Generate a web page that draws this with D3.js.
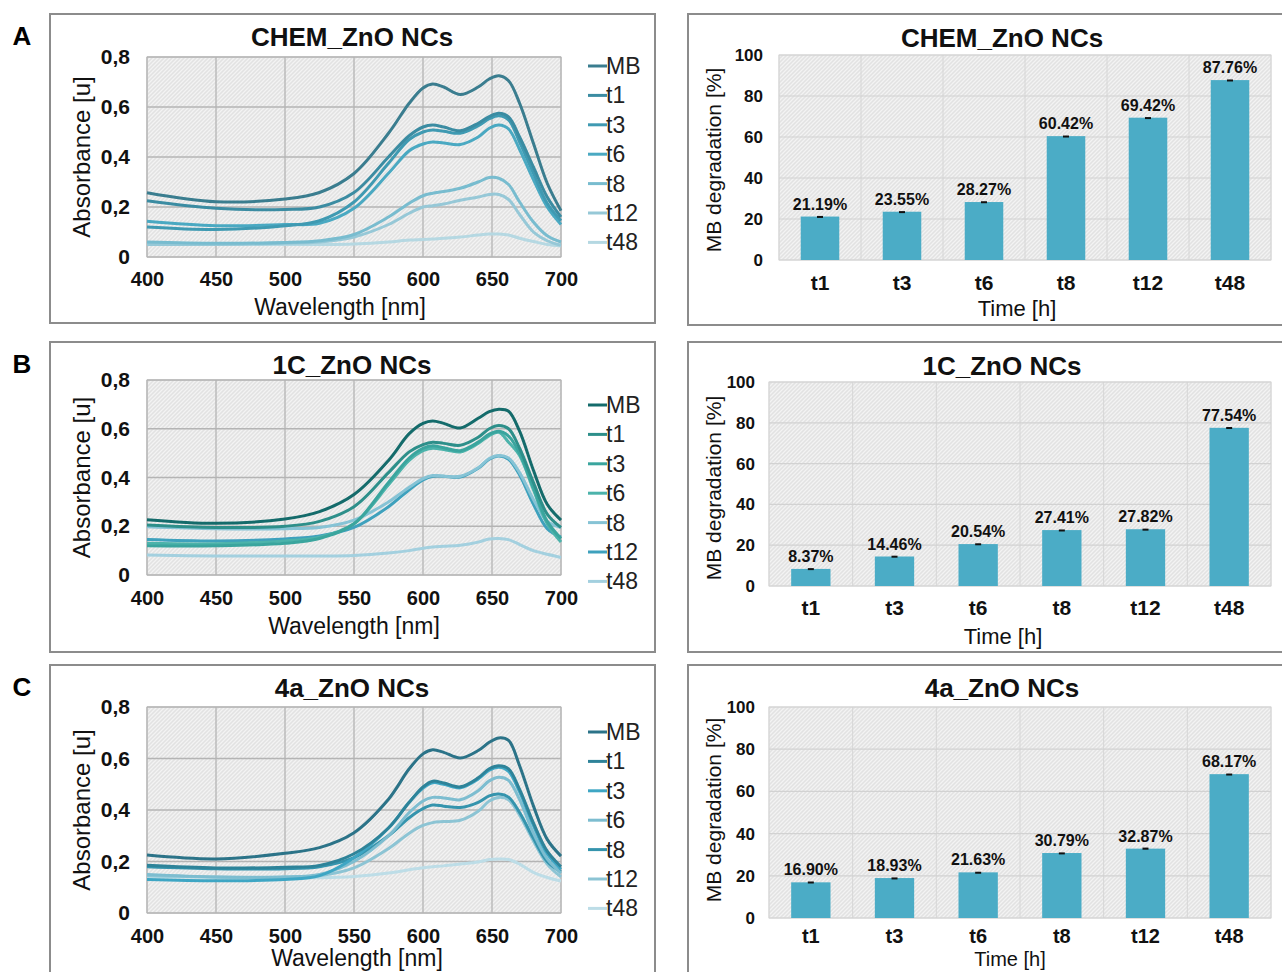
<!DOCTYPE html>
<html>
<head>
<meta charset="utf-8">
<script src="https://cdn.jsdelivr.net/npm/d3@7"></script>
<style>
  body { margin: 0; background: #fff; }
  svg { display: block; font-family: "Liberation Sans", Arial, sans-serif; }
</style>
</head>
<body>
<div id="chart"></div>
<script>
// wavelengths sampled off the spectra (nm)
const wavelengths = [400, 450, 500, 525, 550, 575, 590, 600, 607, 615, 627, 640, 648, 655, 662, 670, 680, 690, 700];
const seriesNames = ['MB', 't1', 't3', 't6', 't8', 't12', 't48'];
const absTicks = [0, 0.2, 0.4, 0.6, 0.8];
const wlTicks = [400, 450, 500, 550, 600, 650, 700];

// absorbance [u], one row per series (MB, t1, t3, t6, t8, t12, t48)
const chemAbs = [
    [.257, .221, .232, .258, .334, .495, .615, .676, .692, .680, .650, .680, .712, .725, .705, .615, .455, .295, .185],
    [.225, .195, .190, .200, .258, .400, .485, .520, .528, .520, .505, .535, .562, .575, .560, .480, .360, .240, .160],
    [.120, .110, .125, .145, .220, .375, .470, .500, .508, .503, .495, .525, .553, .565, .548, .460, .335, .215, .145],
    [.143, .125, .130, .135, .195, .335, .425, .452, .460, .456, .450, .480, .515, .528, .512, .430, .310, .200, .130],
    [.060, .055, .058, .065, .090, .160, .215, .245, .255, .262, .275, .300, .318, .315, .290, .220, .140, .085, .060],
    [.050, .050, .055, .060, .080, .130, .175, .200, .205, .212, .227, .240, .250, .250, .230, .170, .100, .065, .047],
    [.055, .050, .050, .050, .052, .060, .068, .070, .072, .075, .080, .088, .092, .092, .088, .075, .062, .050, .045]
];
const c1Abs = [
    [.227, .212, .230, .260, .330, .470, .580, .622, .632, .622, .603, .643, .670, .680, .672, .590, .430, .290, .225],
    [.205, .195, .200, .220, .280, .420, .505, .535, .545, .540, .532, .565, .600, .613, .600, .520, .380, .250, .195],
    [.120, .120, .130, .150, .210, .380, .480, .520, .530, .522, .510, .545, .578, .590, .570, .500, .360, .220, .150],
    [.130, .128, .140, .155, .210, .370, .470, .510, .520, .515, .505, .540, .572, .585, .545, .490, .350, .210, .135],
    [.198, .190, .190, .195, .225, .300, .360, .395, .408, .405, .405, .440, .478, .490, .480, .420, .310, .220, .195],
    [.146, .140, .148, .160, .195, .280, .350, .390, .405, .405, .402, .438, .475, .488, .475, .410, .290, .190, .155],
    [.082, .078, .078, .078, .080, .090, .100, .110, .115, .118, .122, .135, .148, .150, .145, .125, .100, .085, .072]
];
const c4aAbs = [
    [.225, .210, .232, .254, .312, .442, .560, .618, .634, .624, .602, .631, .663, .680, .670, .572, .416, .286, .221],
    [.185, .175, .178, .185, .230, .330, .430, .490, .512, .505, .490, .525, .560, .572, .560, .480, .350, .240, .180],
    [.130, .125, .130, .145, .215, .330, .430, .485, .506, .500, .486, .520, .555, .566, .550, .470, .340, .230, .170],
    [.150, .140, .140, .150, .200, .300, .390, .435, .449, .447, .440, .475, .513, .527, .515, .440, .310, .210, .155],
    [.180, .172, .172, .180, .215, .300, .370, .405, .419, .415, .410, .430, .455, .462, .450, .390, .290, .200, .160],
    [.145, .140, .140, .145, .175, .250, .310, .340, .351, .355, .360, .395, .435, .449, .440, .380, .280, .190, .140],
    [.143, .138, .137, .137, .142, .155, .168, .176, .180, .183, .190, .198, .208, .210, .208, .190, .158, .138, .124]
];

// MB degradation [%]
const timeLabels = ['t1', 't3', 't6', 't8', 't12', 't48'];
const degTicks = [0, 20, 40, 60, 80, 100];
const chemDeg = [21.19, 23.55, 28.27, 60.42, 69.42, 87.76];
const c1Deg = [8.37, 14.46, 20.54, 27.41, 27.82, 77.54];
const c4aDeg = [16.90, 18.93, 21.63, 30.79, 32.87, 68.17];
const chemErr = [0.3, 0.3, 0.4, 0.3, 0.3, 0.3];
const c1Err = [0.4, 0.4, 0.4, 0.3, 0.3, 0.4];
const c4aErr = [0.4, 0.3, 0.3, 0.3, 0.5, 0.3];

const chemColors = ['#3a7d8f', '#3b8ca2', '#3f9ab2', '#4aa9c2', '#78bccf', '#96c8d7', '#b5d8e2'];
const c1Colors = ['#146b6b', '#2d8f8a', '#3aa59e', '#4cb3ab', '#86c3d5', '#3ea1bd', '#a3d0df'];
const c4aColors = ['#2b7388', '#2e8399', '#3ea6c4', '#7dbdd0', '#3594ad', '#8cc4d4', '#bddde7'];
const barColor = '#4bacc6';
const FONT = '"Liberation Sans", Arial, sans-serif';

const W = 1282, H = 972;
const svg = d3.select('#chart').append('svg').attr('width', W).attr('height', H);
svg.append('rect').attr('width', W).attr('height', H).attr('fill', '#fff');

// excel-like hatched plot area
const defs = svg.append('defs');
const pat = defs.append('pattern').attr('id', 'hatch')
    .attr('patternUnits', 'userSpaceOnUse').attr('width', 4).attr('height', 4);
pat.append('rect').attr('width', 4).attr('height', 4).attr('fill', '#e2e2e2');
pat.append('path').attr('d', 'M-1,1 l2,-2 M0,4 l4,-4 M3,5 l2,-2')
    .attr('stroke', '#f3f3f3').attr('stroke-width', 1.3);

const fmtAbs = (d) => (d === 0 ? '0' : d.toFixed(1).replace('.', ','));

function spectrumPanel(p) {
    const g = svg.append('g');
    g.append('rect').attr('x', 50).attr('y', p.boxTop).attr('width', 605).attr('height', p.boxH)
        .attr('fill', 'none').attr('stroke', '#8c8c8c').attr('stroke-width', 2);
    g.append('text').attr('x', 22).attr('y', p.boxTop + 22).attr('text-anchor', 'middle')
        .attr('dy', '0.35em').attr('font-size', 26).attr('font-weight', 'bold').text(p.letter);

    const x = d3.scaleLinear().domain([400, 700]).range([147, 561]);
    const y = d3.scaleLinear().domain([0, 0.8]).range([p.y0, p.y1]);

    g.append('rect').attr('x', 147).attr('y', p.y1).attr('width', 414).attr('height', p.y0 - p.y1)
        .attr('fill', 'url(#hatch)').attr('stroke', '#c8c8c8');
    g.selectAll('.vg').data(wlTicks).enter().append('line')
        .attr('x1', (d) => x(d)).attr('x2', (d) => x(d)).attr('y1', p.y1).attr('y2', p.y0)
        .attr('stroke', '#b4b4b4').attr('stroke-width', 1.3);
    g.selectAll('.hg').data(absTicks).enter().append('line')
        .attr('x1', 147).attr('x2', 561).attr('y1', (d) => y(d)).attr('y2', (d) => y(d))
        .attr('stroke', '#b4b4b4').attr('stroke-width', 1.3);

    const ax = g.append('g').attr('transform', 'translate(147,0)')
        .call(d3.axisLeft(y).tickValues(absTicks).tickSize(0).tickPadding(17).tickFormat(fmtAbs));
    ax.select('.domain').remove();
    ax.selectAll('text').attr('font-size', 21).attr('font-weight', 'bold').attr('fill', '#111')
        .attr('font-family', FONT);
    const bx = g.append('g').attr('transform', 'translate(0,' + p.y0 + ')')
        .call(d3.axisBottom(x).tickValues(wlTicks).tickSize(0).tickPadding(p.xPad).tickFormat(d3.format('d')));
    bx.select('.domain').remove();
    bx.selectAll('text').attr('font-size', 20).attr('font-weight', 'bold').attr('fill', '#111')
        .attr('font-family', FONT);

    const line = d3.line()
        .x((d, i) => x(wavelengths[i]))
        .y((d) => y(d))
        .curve(d3.curveCatmullRom.alpha(0.5));
    // draw light ones first, MB on top
    const order = d3.range(p.data.length).reverse();
    g.selectAll('.spec').data(order).enter().append('path')
        .attr('d', (i) => line(p.data[i]))
        .attr('fill', 'none').attr('stroke', (i) => p.colors[i]).attr('stroke-width', 3);

    // legend
    seriesNames.forEach((name, i) => {
        const ly = p.legY + i * 29.4;
        g.append('line').attr('x1', 588).attr('x2', 607).attr('y1', ly).attr('y2', ly)
            .attr('stroke', p.colors[i]).attr('stroke-width', 3);
        g.append('text').attr('x', 606).attr('y', ly).attr('dy', '0.35em')
            .attr('font-size', 23).attr('fill', '#222').text(name);
    });

    g.append('text').attr('x', 352).attr('y', p.titleY).attr('dy', '0.35em').attr('text-anchor', 'middle')
        .attr('font-size', 26).attr('font-weight', 'bold').attr('fill', '#111').text(p.title);
    g.append('text').attr('x', p.xLabX).attr('y', p.xLabY).attr('dy', '0.35em').attr('text-anchor', 'middle')
        .attr('font-size', 23).attr('fill', '#111').text('Wavelength [nm]');
    g.append('text').attr('transform', 'translate(82,' + (p.y0 + p.y1) / 2 + ') rotate(-90)')
        .attr('dy', '0.35em').attr('text-anchor', 'middle')
        .attr('font-size', 24).attr('fill', '#111').text('Absorbance [u]');
}

function barPanel(p) {
    const g = svg.append('g');
    g.append('rect').attr('x', 688).attr('y', p.boxTop).attr('width', 640).attr('height', p.boxH)
        .attr('fill', 'none').attr('stroke', '#8c8c8c').attr('stroke-width', 2);

    const x = d3.scaleBand().domain(timeLabels).range([p.x0, 1271]).paddingInner(0.53).paddingOuter(0.265);
    const y = d3.scaleLinear().domain([0, 100]).range([p.y0, p.y1]);

    g.append('rect').attr('x', p.x0).attr('y', p.y1).attr('width', 1271 - p.x0).attr('height', p.y0 - p.y1)
        .attr('fill', 'url(#hatch)').attr('stroke', '#dadada');
    const bounds = d3.range(timeLabels.length + 1).map((i) => p.x0 + i * x.step());
    g.selectAll('.vg').data(bounds).enter().append('line')
        .attr('x1', (d) => d).attr('x2', (d) => d).attr('y1', p.y1).attr('y2', p.y0)
        .attr('stroke', '#d6d6d6').attr('stroke-width', 1);
    g.selectAll('.hg').data(degTicks).enter().append('line')
        .attr('x1', p.x0).attr('x2', 1271).attr('y1', (d) => y(d)).attr('y2', (d) => y(d))
        .attr('stroke', '#d2d2d2').attr('stroke-width', 1.2);

    const ax = g.append('g').attr('transform', 'translate(' + p.x0 + ',0)')
        .call(d3.axisLeft(y).tickValues(degTicks).tickSize(0).tickPadding(p.yPad).tickFormat(d3.format('d')));
    ax.select('.domain').remove();
    ax.selectAll('text').attr('font-size', 17).attr('font-weight', 'bold').attr('fill', '#111')
        .attr('font-family', FONT);
    const bx = g.append('g').attr('transform', 'translate(0,' + p.y0 + ')')
        .call(d3.axisBottom(x).tickSize(0).tickPadding(p.xPad));
    bx.select('.domain').remove();
    bx.selectAll('text').attr('font-size', p.xTickSize).attr('font-weight', 'bold').attr('fill', '#111')
        .attr('font-family', FONT);

    g.selectAll('.bar').data(p.values).enter().append('rect')
        .attr('x', (d, i) => x(timeLabels[i])).attr('width', x.bandwidth())
        .attr('y', (d) => y(d)).attr('height', (d) => p.y0 - y(d))
        .attr('fill', barColor);
    // tiny error bars
    g.selectAll('.err').data(p.values).enter().append('rect')
        .attr('x', (d, i) => x(timeLabels[i]) + x.bandwidth() / 2 - 3).attr('width', 6)
        .attr('y', (d, i) => y(d + p.err[i])).attr('height', (d, i) => Math.max(2, y(d - p.err[i]) - y(d + p.err[i])))
        .attr('fill', '#111');
    g.selectAll('.lab').data(p.values).enter().append('text')
        .attr('x', (d, i) => x(timeLabels[i]) + x.bandwidth() / 2).attr('y', (d) => y(d) - 7)
        .attr('text-anchor', 'middle').attr('font-size', 16).attr('font-weight', 'bold').attr('fill', '#111')
        .text((d) => d.toFixed(2) + '%');

    g.append('text').attr('x', 1002).attr('y', p.titleY).attr('dy', '0.35em').attr('text-anchor', 'middle')
        .attr('font-size', 26).attr('font-weight', 'bold').attr('fill', '#111').text(p.title);
    g.append('text').attr('x', p.xLabX).attr('y', p.xLabY).attr('dy', '0.35em').attr('text-anchor', 'middle')
        .attr('font-size', p.xLabSize).attr('fill', '#111').text('Time [h]');
    g.append('text').attr('transform', 'translate(714,' + p.yLabY + ') rotate(-90)')
        .attr('dy', '0.35em').attr('text-anchor', 'middle')
        .attr('font-size', 21).attr('fill', '#111').text('MB degradation [%]');
}

spectrumPanel({ letter: 'A', title: 'CHEM_ZnO NCs', boxTop: 14, boxH: 309, y0: 257, y1: 57, xPad: 15,
    titleY: 37, legY: 66, xLabX: 340, xLabY: 307, data: chemAbs, colors: chemColors });
spectrumPanel({ letter: 'B', title: '1C_ZnO NCs', boxTop: 342, boxH: 310, y0: 575, y1: 380, xPad: 16,
    titleY: 365, legY: 405, xLabX: 354, xLabY: 626, data: c1Abs, colors: c1Colors });
spectrumPanel({ letter: 'C', title: '4a_ZnO NCs', boxTop: 665, boxH: 330, y0: 913, y1: 707, xPad: 16,
    titleY: 688, legY: 732, xLabX: 357, xLabY: 958, data: c4aAbs, colors: c4aColors });

barPanel({ title: 'CHEM_ZnO NCs', boxTop: 14, boxH: 311, x0: 779, y0: 260, y1: 55, yPad: 16, xPad: 15,
    xTickSize: 21, titleY: 38, xLabX: 1017, xLabY: 308, xLabSize: 22, yLabY: 160, values: chemDeg, err: chemErr });
barPanel({ title: '1C_ZnO NCs', boxTop: 342, boxH: 310, x0: 769, y0: 586, y1: 382, yPad: 14, xPad: 14,
    xTickSize: 21, titleY: 366, xLabX: 1003, xLabY: 636, xLabSize: 22, yLabY: 488, values: c1Deg, err: c1Err });
barPanel({ title: '4a_ZnO NCs', boxTop: 665, boxH: 330, x0: 769, y0: 918, y1: 707, yPad: 14, xPad: 11,
    xTickSize: 20, titleY: 688, xLabX: 1010, xLabY: 959, xLabSize: 20, yLabY: 810, values: c4aDeg, err: c4aErr });
</script>
</body>
</html>
